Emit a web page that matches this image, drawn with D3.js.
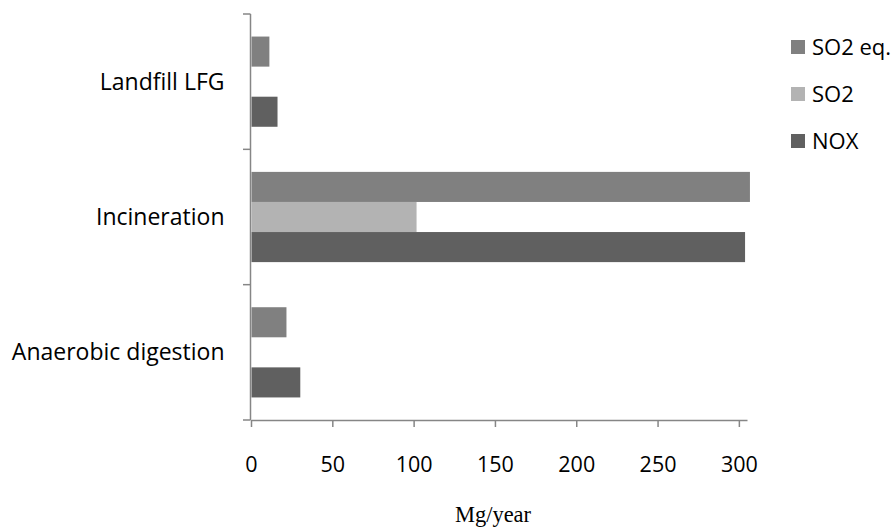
<!DOCTYPE html>
<html>
<head>
<meta charset="utf-8">
<script src="https://cdn.jsdelivr.net/npm/d3@7"></script>
<style>
  body { margin: 0; background: #fff; }
  svg { display: block; }
  .cat text, .xax text, .legend text { font-family: "Open Sans", sans-serif; font-size: 21.5px; fill: #000; }
  .cat text { font-size: 23px; }
  .legend text { font-size: 22px; }
</style>
</head>
<body>
<div id="main"></div>
<script>
// data (Mg/year)
const categories = ["Landfill LFG", "Incineration", "Anaerobic digestion"];
const series = ["SO2 eq.", "SO2", "NOX"];
const so2eq = [11, 306.5, 21.5];
const so2 = [0, 101.5, 0];
const nox = [16, 303.5, 30];
const xTicks = [0, 50, 100, 150, 200, 250, 300];
const colors = ["#808080", "#b3b3b3", "#606060"];

const width = 894, height = 529;
const axisColor = "#868686";

const svg = d3.select("#main").append("svg")
  .attr("width", width).attr("height", height);

// scales
const x = d3.scaleLinear().domain([0, 305]).range([251, 747]);
const y = d3.scaleBand().domain(categories).range([14, 420]);
const ySeries = d3.scaleBand().domain(series).range([0, y.bandwidth()]).paddingOuter(0.75);

const values = [so2eq, so2, nox];
const rows = [];
categories.forEach(function(c, i) {
  series.forEach(function(s, j) {
    rows.push({cat: c, series: s, value: values[j][i], color: colors[j]});
  });
});

// bars
svg.append("g").attr("class", "bars")
  .selectAll("rect").data(rows.filter(d => d.value > 0))
  .enter().append("rect")
  .attr("x", x(0) + 0.5)
  .attr("y", d => y(d.cat) + ySeries(d.series))
  .attr("width", d => x(d.value) - x(0))
  .attr("height", ySeries.bandwidth())
  .attr("fill", d => d.color);

// y axis: labels
const yAxis = d3.axisLeft(y).tickSize(0).tickPadding(26);
const gy = svg.append("g").attr("class", "cat")
  .attr("transform", "translate(250.5,0)")
  .call(yAxis);
gy.select(".domain").remove();
gy.selectAll("text").attr("dy", "0.35em");

// y axis: line and boundary ticks
const bounds = categories.map(c => y(c)).concat([y.range()[1]]);
svg.append("line")
  .attr("x1", 250.5).attr("x2", 250.5)
  .attr("y1", y.range()[0]).attr("y2", y.range()[1])
  .attr("stroke", axisColor).attr("stroke-width", 1.5);
svg.append("g").selectAll("line").data(bounds).enter().append("line")
  .attr("x1", 243).attr("x2", 250.5)
  .attr("y1", d => d).attr("y2", d => d)
  .attr("stroke", axisColor).attr("stroke-width", 1.5);

// x axis
const xAxis = d3.axisBottom(x).tickValues(xTicks).tickSizeInner(7).tickSizeOuter(0).tickPadding(30);
const gx = svg.append("g").attr("class", "xax")
  .attr("transform", "translate(0,420)")
  .call(xAxis);
gx.select(".domain").attr("stroke", axisColor).attr("stroke-width", 1.5);
gx.selectAll(".tick line").attr("stroke", axisColor).attr("stroke-width", 1.5);

// axis title
svg.append("text")
  .attr("x", 493).attr("y", 522)
  .attr("text-anchor", "middle")
  .style("font-family", "'Liberation Serif', 'Times New Roman', serif")
  .style("font-size", "22.5px")
  .text("Mg/year");

// legend
const legend = svg.append("g").attr("class", "legend")
  .attr("transform", "translate(791,40)");
const item = legend.selectAll("g").data(series).enter().append("g")
  .attr("transform", (d, i) => "translate(0," + i * 47 + ")");
item.append("rect")
  .attr("width", 14).attr("height", 14)
  .attr("fill", (d, i) => colors[i]);
item.append("text")
  .attr("x", 21).attr("y", 15)
  .text(d => d);
</script>
</body>
</html>
